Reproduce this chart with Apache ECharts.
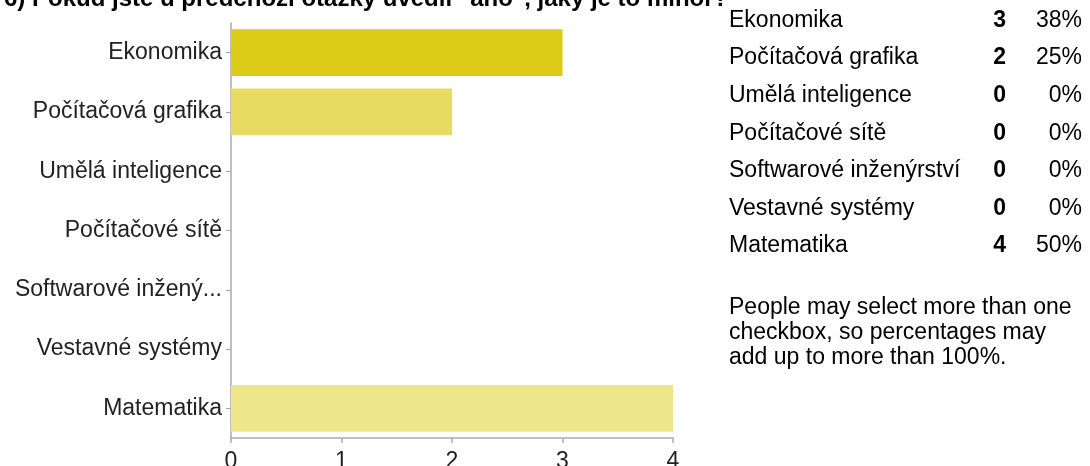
<!DOCTYPE html>
<html>
<head>
<meta charset="utf-8">
<script src="https://cdn.jsdelivr.net/npm/echarts@6/dist/echarts.min.js"></script>
<style>
html,body{margin:0;padding:0;background:#fff;}
#c{width:1090px;height:466px;}
</style>
</head>
<body>
<div id="c"></div>
<script>
const titleText = '6) Pokud jste u předchozí otázky uvedli "ano", jaký je to minor?';
const categories = ['Ekonomika', 'Počítačová grafika', 'Umělá inteligence', 'Počítačové sítě', 'Softwarové inženýrství', 'Vestavné systémy', 'Matematika'];
const counts = [3, 2, 0, 0, 0, 0, 4];
const percents = [38, 25, 0, 0, 0, 0, 50];
const barColors = ['#DDCC17', '#E7DB62', '#EAE070', '#EAE070', '#EAE070', '#EAE070', '#EDE68B'];
const xTicks = [0, 1, 2, 3, 4];
const noteLines = ['People may select more than one', 'checkbox, so percentages may', 'add up to more than 100%.'];

const FONT = '"Liberation Sans", Arial, sans-serif';
const FS = 23;

const chart = echarts.init(document.getElementById('c'));

const graphics = [];
graphics.push({
  type: 'text', left: 4, top: -13,
  style: { text: titleText, font: 'bold 24px ' + FONT, fill: '#000' }
});
categories.forEach((name, i) => {
  const y = 20.5 + 37.6 * i;
  graphics.push({ type: 'text', x: 729, y: y, style: { text: name, font: FS + 'px ' + FONT, fill: '#000', verticalAlign: 'middle', align: 'left' } });
  graphics.push({ type: 'text', x: 1006, y: y, style: { text: String(counts[i]), font: 'bold ' + FS + 'px ' + FONT, fill: '#000', verticalAlign: 'middle', align: 'right' } });
  graphics.push({ type: 'text', x: 1082, y: y, style: { text: percents[i] + '%', font: FS + 'px ' + FONT, fill: '#000', verticalAlign: 'middle', align: 'right' } });
});
noteLines.forEach((line, i) => {
  graphics.push({ type: 'text', x: 729, y: 308 + 25 * i, style: { text: line, font: FS + 'px ' + FONT, fill: '#000', verticalAlign: 'middle', align: 'left' } });
});

chart.setOption({
  animation: false,
  backgroundColor: '#fff',
  grid: { left: 231, top: 23, width: 442, height: 415, containLabel: false, outerBoundsMode: 'none' },
  xAxis: {
    type: 'value', min: 0, max: 4, interval: 1,
    axisLine: { show: true, lineStyle: { color: '#aaa', width: 1.5 } },
    axisTick: { show: true, length: 5, lineStyle: { color: '#aaa', width: 1.5 } },
    splitLine: { show: false },
    axisLabel: { color: '#222', fontSize: FS, fontFamily: FONT, margin: 12,
      formatter: v => xTicks.includes(v) ? String(v) : '' }
  },
  yAxis: {
    type: 'category', data: categories, inverse: true,
    axisLine: { show: true, lineStyle: { color: '#aaa', width: 1.5 } },
    axisTick: { show: true, length: 5, alignWithLabel: true, lineStyle: { color: '#aaa', width: 1 } },
    axisLabel: { color: '#222', fontSize: FS, fontFamily: FONT, margin: 9,
      formatter: v => v.length > 20 ? v.slice(0, 17) + '...' : v }
  },
  series: [{
    type: 'bar',
    data: counts.map((v, i) => ({ value: v, itemStyle: { color: barColors[i] } })),
    barCategoryGap: '21%'
  }],
  graphic: graphics
});
</script>
</body>
</html>
